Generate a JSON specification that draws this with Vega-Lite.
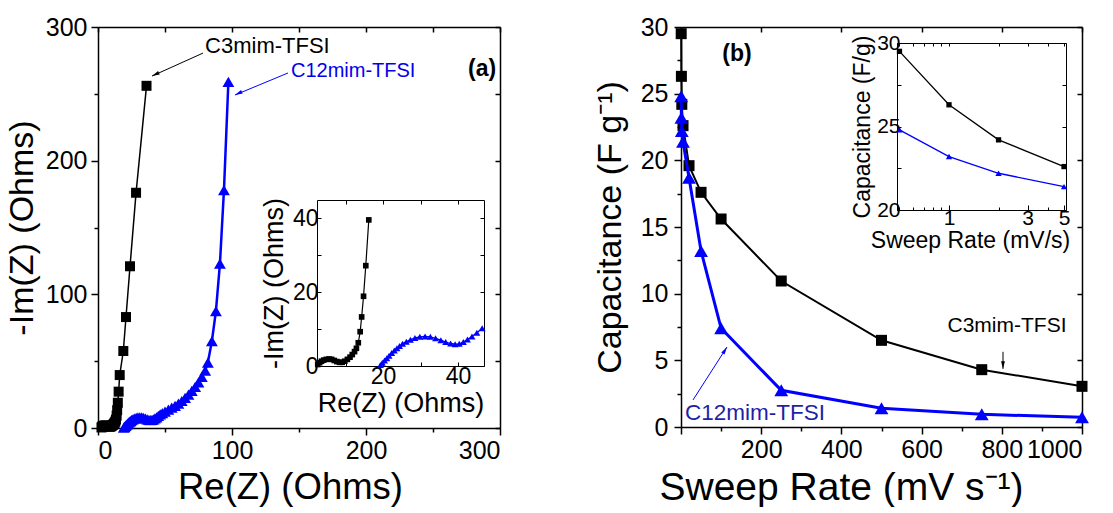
{
  "$schema": "https://vega.github.io/schema/vega-lite/v6.json",
  "background": "white",
  "autosize": {"type": "pad"},
  "padding": {"left": 5, "top": 15, "right": 0, "bottom": 0},
  "spacing": 92,
  "config": {
    "view": {"stroke": null},
    "axis": {
      "grid": false,
      "labelFont": "Liberation Sans",
      "titleFont": "Liberation Sans",
      "labelColor": "black",
      "titleColor": "black",
      "domainColor": "black",
      "tickColor": "black",
      "titleFontWeight": "normal",
      "domainWidth": 1.5,
      "tickWidth": 1.5,
      "labelFontSize": 25,
      "titleFontSize": 34,
      "labelOverlap": false
    },
    "text": {"font": "Liberation Sans"}
  },
  "datasets": {
    "eis": [
      {"s": "C3mim-TFSI", "re": 2.6, "im": 0.4},
      {"s": "C3mim-TFSI", "re": 3.1, "im": 0.9},
      {"s": "C3mim-TFSI", "re": 3.6, "im": 1.3},
      {"s": "C3mim-TFSI", "re": 4.2, "im": 1.6},
      {"s": "C3mim-TFSI", "re": 4.9, "im": 1.8},
      {"s": "C3mim-TFSI", "re": 5.6, "im": 1.9},
      {"s": "C3mim-TFSI", "re": 6.3, "im": 1.8},
      {"s": "C3mim-TFSI", "re": 7.0, "im": 1.5},
      {"s": "C3mim-TFSI", "re": 7.7, "im": 1.2},
      {"s": "C3mim-TFSI", "re": 8.4, "im": 1.0},
      {"s": "C3mim-TFSI", "re": 9.1, "im": 1.0},
      {"s": "C3mim-TFSI", "re": 9.8, "im": 1.3},
      {"s": "C3mim-TFSI", "re": 10.5, "im": 1.8},
      {"s": "C3mim-TFSI", "re": 11.2, "im": 2.4},
      {"s": "C3mim-TFSI", "re": 11.8, "im": 3.1},
      {"s": "C3mim-TFSI", "re": 12.4, "im": 3.9},
      {"s": "C3mim-TFSI", "re": 12.9, "im": 4.8},
      {"s": "C3mim-TFSI", "re": 13.4, "im": 6.3},
      {"s": "C3mim-TFSI", "re": 13.9, "im": 9.3},
      {"s": "C3mim-TFSI", "re": 14.3, "im": 13.3},
      {"s": "C3mim-TFSI", "re": 14.8, "im": 18.9},
      {"s": "C3mim-TFSI", "re": 15.4, "im": 27.2},
      {"s": "C3mim-TFSI", "re": 16.2, "im": 39.6},
      {"s": "C3mim-TFSI", "re": 18.9, "im": 57.6},
      {"s": "C3mim-TFSI", "re": 20.9, "im": 83},
      {"s": "C3mim-TFSI", "re": 23.9, "im": 121},
      {"s": "C3mim-TFSI", "re": 28.4, "im": 176},
      {"s": "C3mim-TFSI", "re": 36.2, "im": 256},
      {"s": "C12mim-TFSI", "re": 19.3, "im": 0.3},
      {"s": "C12mim-TFSI", "re": 19.8, "im": 0.9},
      {"s": "C12mim-TFSI", "re": 20.4, "im": 1.5},
      {"s": "C12mim-TFSI", "re": 21.0, "im": 2.1},
      {"s": "C12mim-TFSI", "re": 21.6, "im": 2.8},
      {"s": "C12mim-TFSI", "re": 22.3, "im": 3.5},
      {"s": "C12mim-TFSI", "re": 23.0, "im": 4.2},
      {"s": "C12mim-TFSI", "re": 23.7, "im": 4.8},
      {"s": "C12mim-TFSI", "re": 24.4, "im": 5.4},
      {"s": "C12mim-TFSI", "re": 25.2, "im": 6.0},
      {"s": "C12mim-TFSI", "re": 26.2, "im": 6.6},
      {"s": "C12mim-TFSI", "re": 27.3, "im": 7.1},
      {"s": "C12mim-TFSI", "re": 28.5, "im": 7.6},
      {"s": "C12mim-TFSI", "re": 29.8, "im": 7.9},
      {"s": "C12mim-TFSI", "re": 31.2, "im": 8.0},
      {"s": "C12mim-TFSI", "re": 32.6, "im": 7.9},
      {"s": "C12mim-TFSI", "re": 34.0, "im": 7.5},
      {"s": "C12mim-TFSI", "re": 35.4, "im": 7.0},
      {"s": "C12mim-TFSI", "re": 36.7, "im": 6.5},
      {"s": "C12mim-TFSI", "re": 38.0, "im": 6.1},
      {"s": "C12mim-TFSI", "re": 39.2, "im": 5.9},
      {"s": "C12mim-TFSI", "re": 40.3, "im": 6.0},
      {"s": "C12mim-TFSI", "re": 41.4, "im": 6.5},
      {"s": "C12mim-TFSI", "re": 42.5, "im": 7.2},
      {"s": "C12mim-TFSI", "re": 43.7, "im": 8.0},
      {"s": "C12mim-TFSI", "re": 45.0, "im": 9.0},
      {"s": "C12mim-TFSI", "re": 46.4, "im": 10.2},
      {"s": "C12mim-TFSI", "re": 48.0, "im": 11.2},
      {"s": "C12mim-TFSI", "re": 50.0, "im": 12.2},
      {"s": "C12mim-TFSI", "re": 52.5, "im": 13.8},
      {"s": "C12mim-TFSI", "re": 55.0, "im": 15.2},
      {"s": "C12mim-TFSI", "re": 57.5, "im": 16.6},
      {"s": "C12mim-TFSI", "re": 60.0, "im": 18.3},
      {"s": "C12mim-TFSI", "re": 62.5, "im": 20.2},
      {"s": "C12mim-TFSI", "re": 65.0, "im": 22.5},
      {"s": "C12mim-TFSI", "re": 67.5, "im": 25.0},
      {"s": "C12mim-TFSI", "re": 70.0, "im": 27.7},
      {"s": "C12mim-TFSI", "re": 72.5, "im": 30.7},
      {"s": "C12mim-TFSI", "re": 75.0, "im": 34.2},
      {"s": "C12mim-TFSI", "re": 77.5, "im": 38.2},
      {"s": "C12mim-TFSI", "re": 80.0, "im": 43.0},
      {"s": "C12mim-TFSI", "re": 82.0, "im": 49.0},
      {"s": "C12mim-TFSI", "re": 85.0, "im": 65.0},
      {"s": "C12mim-TFSI", "re": 88.0, "im": 87.5},
      {"s": "C12mim-TFSI", "re": 91.0, "im": 123},
      {"s": "C12mim-TFSI", "re": 94.0, "im": 178},
      {"s": "C12mim-TFSI", "re": 97.3, "im": 259}
    ],
    "cap": [
      {"s": "C3mim-TFSI", "rate": 0.5, "c": 29.5},
      {"s": "C3mim-TFSI", "rate": 1, "c": 26.3},
      {"s": "C3mim-TFSI", "rate": 2, "c": 24.2},
      {"s": "C3mim-TFSI", "rate": 5, "c": 22.6},
      {"s": "C3mim-TFSI", "rate": 20, "c": 19.6},
      {"s": "C3mim-TFSI", "rate": 50, "c": 17.6},
      {"s": "C3mim-TFSI", "rate": 100, "c": 15.6},
      {"s": "C3mim-TFSI", "rate": 250, "c": 10.95},
      {"s": "C3mim-TFSI", "rate": 500, "c": 6.5},
      {"s": "C3mim-TFSI", "rate": 750, "c": 4.3},
      {"s": "C3mim-TFSI", "rate": 1000, "c": 3.05},
      {"s": "C12mim-TFSI", "rate": 0.5, "c": 24.8},
      {"s": "C12mim-TFSI", "rate": 1, "c": 23.2},
      {"s": "C12mim-TFSI", "rate": 2, "c": 22.2},
      {"s": "C12mim-TFSI", "rate": 5, "c": 21.4},
      {"s": "C12mim-TFSI", "rate": 20, "c": 18.7},
      {"s": "C12mim-TFSI", "rate": 50, "c": 13.2},
      {"s": "C12mim-TFSI", "rate": 100, "c": 7.4},
      {"s": "C12mim-TFSI", "rate": 250, "c": 2.75},
      {"s": "C12mim-TFSI", "rate": 500, "c": 1.4},
      {"s": "C12mim-TFSI", "rate": 750, "c": 0.95},
      {"s": "C12mim-TFSI", "rate": 1000, "c": 0.73}
    ]
  },
  "hconcat": [
    {
      "width": 402,
      "height": 401,
      "resolve": {"scale": {"x": "independent", "y": "independent"}},
      "layer": [
        {
          "data": {"name": "eis"},
          "mark": {"type": "point", "opacity": 0},
          "encoding": {
            "x": {"field": "re", "type": "quantitative", "scale": {"domain": [0, 300], "nice": false, "zero": false},
                  "axis": {"orient": "top", "title": null, "labels": false, "values": [0, 50, 100, 150, 200, 250, 300], "tickSize": -5}},
            "y": {"field": "im", "type": "quantitative", "scale": {"domain": [0, 300], "nice": false, "zero": false},
                  "axis": {"orient": "right", "title": null, "labels": false, "values": [0, 50, 100, 150, 200, 250, 300], "tickSize": -5}}
          }
        },
        {
          "data": {"name": "eis"},
          "mark": {"type": "point", "opacity": 0},
          "encoding": {
            "x": {"field": "re", "type": "quantitative", "scale": {"domain": [0, 300], "nice": false, "zero": false},
                  "axis": {"orient": "bottom", "title": null, "labels": false, "domain": false, "values": [50, 150, 250], "tickSize": 4}},
            "y": {"field": "im", "type": "quantitative", "scale": {"domain": [0, 300], "nice": false, "zero": false},
                  "axis": {"orient": "left", "title": null, "labels": false, "domain": false, "values": [50, 150, 250], "tickSize": 4}}
          }
        },
        {
          "layer": [
            {
              "data": {"name": "eis"},
              "transform": [{"filter": "datum.s === 'C3mim-TFSI'"}],
              "mark": {"type": "line", "color": "black", "strokeWidth": 1.5},
              "encoding": {
                "x": {"field": "re", "type": "quantitative", "scale": {"domain": [0, 300], "nice": false, "zero": false},
                      "axis": {"orient": "bottom", "title": "Re(Z) (Ohms)", "values": [0, 100, 200, 300],
                               "tickSize": 7, "labelPadding": 3, "titlePadding": 6, "titleFontSize": 36.5, "titleX": 192}},
                "y": {"field": "im", "type": "quantitative", "scale": {"domain": [0, 300], "nice": false, "zero": false},
                      "axis": {"orient": "left", "title": "-Im(Z) (Ohms)", "values": [0, 100, 200, 300],
                               "tickSize": 7, "labelPadding": 4, "titlePadding": 6}}
              }
            },
            {
              "data": {"name": "eis"},
              "transform": [{"filter": "datum.s === 'C3mim-TFSI'"}],
              "mark": {"type": "point", "shape": "square", "filled": true, "color": "black", "size": 100, "opacity": 1},
              "encoding": {
                "x": {"field": "re", "type": "quantitative"},
                "y": {"field": "im", "type": "quantitative"}
              }
            },
            {
              "data": {"name": "eis"},
              "transform": [{"filter": "datum.s === 'C12mim-TFSI'"}],
              "mark": {"type": "line", "color": "#0000ff", "strokeWidth": 2.5},
              "encoding": {
                "x": {"field": "re", "type": "quantitative"},
                "y": {"field": "im", "type": "quantitative"}
              }
            },
            {
              "data": {"name": "eis"},
              "transform": [{"filter": "datum.s === 'C12mim-TFSI'"}],
              "mark": {"type": "point", "shape": "triangle-up", "filled": true, "color": "#0000ff", "size": 140, "opacity": 1},
              "encoding": {
                "x": {"field": "re", "type": "quantitative"},
                "y": {"field": "im", "type": "quantitative"}
              }
            },
            {
              "data": {"values": [
                {"x": 78.4, "y": 280.5, "x2": 40.3, "y2": 263.3, "s": "C3mim-TFSI"}
              ]},
              "mark": {"type": "rule", "color": "black", "strokeWidth": 1},
              "encoding": {
                "x": {"field": "x", "type": "quantitative"},
                "y": {"field": "y", "type": "quantitative"},
                "x2": {"field": "x2"},
                "y2": {"field": "y2"}
              }
            },
            {
              "data": {"values": [
                {"x": 141.8, "y": 265.6, "x2": 102.2, "y2": 249.1, "s": "C12mim-TFSI"}
              ]},
              "mark": {"type": "rule", "color": "#0000ff", "strokeWidth": 1},
              "encoding": {
                "x": {"field": "x", "type": "quantitative"},
                "y": {"field": "y", "type": "quantitative"},
                "x2": {"field": "x2"},
                "y2": {"field": "y2"}
              }
            },
            {
              "data": {"values": [
                {"x": 40.3, "y": 263.3, "s": "C3mim-TFSI"}
              ]},
              "mark": {"type": "point", "shape": "M0,0L0.55,2.2L-0.55,2.2Z", "filled": true, "color": "black", "size": 49, "opacity": 1, "angle": 244},
              "encoding": {
                "x": {"field": "x", "type": "quantitative"},
                "y": {"field": "y", "type": "quantitative"}
              }
            },
            {
              "data": {"values": [
                {"x": 102.2, "y": 249.1, "s": "C12mim-TFSI"}
              ]},
              "mark": {"type": "point", "shape": "M0,0L0.55,2.2L-0.55,2.2Z", "filled": true, "color": "#0000ff", "size": 49, "opacity": 1, "angle": 244},
              "encoding": {
                "x": {"field": "x", "type": "quantitative"},
                "y": {"field": "y", "type": "quantitative"}
              }
            },
            {
              "data": {"values": [
                {"x": 79.9, "y": 285.8, "t": "C3mim-TFSI"}
              ]},
              "mark": {"type": "text", "align": "left", "baseline": "middle", "fontSize": 22, "color": "black"},
              "encoding": {
                "x": {"field": "x", "type": "quantitative"},
                "y": {"field": "y", "type": "quantitative"},
                "text": {"field": "t"}
              }
            },
            {
              "data": {"values": [
                {"x": 144.0, "y": 267.1, "t": "C12mim-TFSI"}
              ]},
              "mark": {"type": "text", "align": "left", "baseline": "middle", "fontSize": 20, "color": "#0000ee"},
              "encoding": {
                "x": {"field": "x", "type": "quantitative"},
                "y": {"field": "y", "type": "quantitative"},
                "text": {"field": "t"}
              }
            },
            {
              "data": {"values": [
                {"x": 286.6, "y": 268.6, "t": "(a)"}
              ]},
              "mark": {"type": "text", "align": "center", "baseline": "middle", "fontSize": 23, "fontWeight": "bold", "color": "black"},
              "encoding": {
                "x": {"field": "x", "type": "quantitative"},
                "y": {"field": "y", "type": "quantitative"},
                "text": {"field": "t"}
              }
            }
          ]
        },
        {
          "data": {"name": "eis"},
          "transform": [{"filter": "datum.re <= 46 && datum.im <= 45"}],
          "mark": {"type": "point", "opacity": 0},
          "encoding": {
            "x": {"field": "re", "type": "quantitative", "scale": {"domain": [2.4, 46.9], "range": [219, 386], "nice": false, "zero": false},
                  "axis": {"orient": "top", "offset": -173, "title": null, "labels": false, "values": [10, 20, 30, 40], "tickSize": -4, "domainWidth": 1, "tickWidth": 1}},
            "y": {"field": "im", "type": "quantitative", "scale": {"domain": [0, 45], "range": [339, 173], "nice": false, "zero": false},
                  "axis": {"orient": "right", "offset": -16, "title": null, "labels": false, "values": [0, 10, 20, 30, 40], "tickSize": -4, "domainWidth": 1, "tickWidth": 1}}
          }
        },
        {
          "data": {"name": "eis"},
          "transform": [{"filter": "datum.re <= 47.1 && datum.im <= 45"}],
          "layer": [
            {
              "transform": [{"filter": "datum.s === 'C3mim-TFSI'"}],
              "mark": {"type": "line", "color": "black", "strokeWidth": 1.2},
              "encoding": {
                "x": {"field": "re", "type": "quantitative", "scale": {"domain": [2.4, 46.9], "range": [219, 386], "nice": false, "zero": false},
                      "axis": {"orient": "bottom", "offset": -62, "title": "Re(Z) (Ohms)", "values": [10, 20, 30, 40],
                               "labelExpr": "datum.value % 20 === 0 ? datum.label : ''", "tickSize": -4,
                               "labelFontSize": 23, "titleFontSize": 27, "labelPadding": 3, "titlePadding": 2, "domainWidth": 1, "tickWidth": 1}},
                "y": {"field": "im", "type": "quantitative", "scale": {"domain": [0, 45], "range": [339, 173], "nice": false, "zero": false},
                      "axis": {"orient": "left", "offset": -219, "title": "-Im(Z) (Ohms)", "values": [0, 10, 20, 30, 40],
                               "labelExpr": "datum.value % 20 === 0 ? datum.label : ''", "tickSize": -4,
                               "labelFontSize": 23, "titleFontSize": 27, "labelPadding": 3, "titlePadding": 4, "domainWidth": 1, "tickWidth": 1}}
              }
            },
            {
              "transform": [{"filter": "datum.s === 'C3mim-TFSI'"}],
              "mark": {"type": "point", "shape": "square", "filled": true, "color": "black", "size": 32, "opacity": 1},
              "encoding": {
                "x": {"field": "re", "type": "quantitative"},
                "y": {"field": "im", "type": "quantitative"}
              }
            },
            {
              "transform": [{"filter": "datum.s === 'C12mim-TFSI'"}],
              "mark": {"type": "line", "color": "#0000ff", "strokeWidth": 1.3},
              "encoding": {
                "x": {"field": "re", "type": "quantitative"},
                "y": {"field": "im", "type": "quantitative"}
              }
            },
            {
              "transform": [{"filter": "datum.s === 'C12mim-TFSI'"}],
              "mark": {"type": "point", "shape": "triangle-up", "filled": true, "color": "#0000ff", "size": 48, "opacity": 1},
              "encoding": {
                "x": {"field": "re", "type": "quantitative"},
                "y": {"field": "im", "type": "quantitative"}
              }
            }
          ]
        }
      ]
    },
    {
      "width": 401,
      "height": 400,
      "resolve": {"scale": {"x": "independent", "y": "independent"}},
      "layer": [
        {
          "data": {"name": "cap"},
          "mark": {"type": "point", "opacity": 0},
          "encoding": {
            "x": {"field": "rate", "type": "quantitative", "scale": {"domain": [0, 1000], "nice": false, "zero": false},
                  "axis": {"orient": "top", "title": null, "labels": false, "values": [0, 200, 400, 600, 800, 1000], "tickSize": -5}},
            "y": {"field": "c", "type": "quantitative", "scale": {"domain": [0, 30], "nice": false, "zero": false},
                  "axis": {"orient": "right", "title": null, "labels": false, "values": [0, 5, 10, 15, 20, 25, 30], "tickSize": -5}}
          }
        },
        {
          "data": {"name": "cap"},
          "mark": {"type": "point", "opacity": 0},
          "encoding": {
            "x": {"field": "rate", "type": "quantitative", "scale": {"domain": [0, 1000], "nice": false, "zero": false},
                  "axis": {"orient": "bottom", "title": null, "labels": false, "domain": false, "values": [100, 300, 500, 700, 900], "tickSize": 4}},
            "y": {"field": "c", "type": "quantitative", "scale": {"domain": [0, 30], "nice": false, "zero": false},
                  "axis": {"orient": "left", "title": null, "labels": false, "domain": false, "values": [2.5, 7.5, 12.5, 17.5, 22.5, 27.5], "tickSize": 4}}
          }
        },
        {
          "layer": [
            {
              "data": {"name": "cap"},
              "transform": [{"filter": "datum.s === 'C3mim-TFSI'"}],
              "mark": {"type": "line", "color": "black", "strokeWidth": 2},
              "encoding": {
                "x": {"field": "rate", "type": "quantitative", "scale": {"domain": [0, 1000], "nice": false, "zero": false},
                      "axis": {"orient": "bottom", "title": "Sweep Rate (mV s⁻¹)", "values": [0, 200, 400, 600, 800, 1000], "format": "d",
                               "labelExpr": "datum.value > 0 ? datum.label : ''",
                               "tickSize": 7, "labelPadding": 3, "titlePadding": 6, "titleFontSize": 39, "titleX": 160}},
                "y": {"field": "c", "type": "quantitative", "scale": {"domain": [0, 30], "nice": false, "zero": false},
                      "axis": {"orient": "left", "title": "Capacitance (F g⁻¹)", "values": [0, 5, 10, 15, 20, 25, 30],
                               "tickSize": 7, "labelPadding": 6, "titlePadding": 13}}
              }
            },
            {
              "data": {"name": "cap"},
              "transform": [{"filter": "datum.s === 'C3mim-TFSI'"}],
              "mark": {"type": "point", "shape": "square", "filled": true, "color": "black", "size": 121, "opacity": 1},
              "encoding": {
                "x": {"field": "rate", "type": "quantitative"},
                "y": {"field": "c", "type": "quantitative"}
              }
            },
            {
              "data": {"name": "cap"},
              "transform": [{"filter": "datum.s === 'C12mim-TFSI'"}],
              "mark": {"type": "line", "color": "#0000ff", "strokeWidth": 3},
              "encoding": {
                "x": {"field": "rate", "type": "quantitative"},
                "y": {"field": "c", "type": "quantitative"}
              }
            },
            {
              "data": {"name": "cap"},
              "transform": [{"filter": "datum.s === 'C12mim-TFSI'"}],
              "mark": {"type": "point", "shape": "triangle-up", "filled": true, "color": "#0000ff", "size": 190, "opacity": 1},
              "encoding": {
                "x": {"field": "rate", "type": "quantitative"},
                "y": {"field": "c", "type": "quantitative"}
              }
            },
            {
              "data": {"values": [
                {"x": 803, "y": 5.64, "x2": 803, "y2": 4.36, "s": "C3mim-TFSI"}
              ]},
              "mark": {"type": "rule", "color": "black", "strokeWidth": 1},
              "encoding": {
                "x": {"field": "x", "type": "quantitative"},
                "y": {"field": "y", "type": "quantitative"},
                "x2": {"field": "x2"},
                "y2": {"field": "y2"}
              }
            },
            {
              "data": {"values": [
                {"x": 30, "y": 2.03, "x2": 114.7, "y2": 6.0, "s": "C12mim-TFSI"}
              ]},
              "mark": {"type": "rule", "color": "#0000ff", "strokeWidth": 1},
              "encoding": {
                "x": {"field": "x", "type": "quantitative"},
                "y": {"field": "y", "type": "quantitative"},
                "x2": {"field": "x2"},
                "y2": {"field": "y2"}
              }
            },
            {
              "data": {"values": [
                {"x": 803, "y": 4.36, "s": "C3mim-TFSI"}
              ]},
              "mark": {"type": "point", "shape": "M0,0L0.55,2.2L-0.55,2.2Z", "filled": true, "color": "black", "size": 49, "opacity": 1, "angle": 180},
              "encoding": {
                "x": {"field": "x", "type": "quantitative"},
                "y": {"field": "y", "type": "quantitative"}
              }
            },
            {
              "data": {"values": [
                {"x": 114.7, "y": 6.0, "s": "C12mim-TFSI"}
              ]},
              "mark": {"type": "point", "shape": "M0,0L0.55,2.2L-0.55,2.2Z", "filled": true, "color": "#0000ff", "size": 49, "opacity": 1, "angle": 32},
              "encoding": {
                "x": {"field": "x", "type": "quantitative"},
                "y": {"field": "y", "type": "quantitative"}
              }
            },
            {
              "data": {"values": [
                {"x": 813, "y": 7.6, "t": "C3mim-TFSI"}
              ]},
              "mark": {"type": "text", "align": "center", "baseline": "middle", "fontSize": 21, "color": "black"},
              "encoding": {
                "x": {"field": "x", "type": "quantitative"},
                "y": {"field": "y", "type": "quantitative"},
                "text": {"field": "t"}
              }
            },
            {
              "data": {"values": [
                {"x": 10, "y": 1.05, "t": "C12mim-TFSI"}
              ]},
              "mark": {"type": "text", "align": "left", "baseline": "middle", "fontSize": 22.5, "color": "#1f1fa8"},
              "encoding": {
                "x": {"field": "x", "type": "quantitative"},
                "y": {"field": "y", "type": "quantitative"},
                "text": {"field": "t"}
              }
            },
            {
              "data": {"values": [
                {"x": 139.7, "y": 28.0, "t": "(b)"}
              ]},
              "mark": {"type": "text", "align": "center", "baseline": "middle", "fontSize": 23, "fontWeight": "bold", "color": "black"},
              "encoding": {
                "x": {"field": "x", "type": "quantitative"},
                "y": {"field": "y", "type": "quantitative"},
                "text": {"field": "t"}
              }
            }
          ]
        },
        {
          "data": {"name": "cap"},
          "transform": [{"filter": "datum.rate <= 5"}],
          "mark": {"type": "point", "opacity": 0},
          "encoding": {
            "x": {"field": "rate", "type": "quantitative", "scale": {"type": "log", "domain": [0.483, 5.14], "range": [216, 385], "nice": false},
                  "axis": {"orient": "top", "offset": -16, "title": null, "labels": false, "values": [0.5, 0.6, 0.7, 0.8, 0.9, 1, 2, 3, 4, 5], "tickSize": -3, "domainWidth": 1, "tickWidth": 1}},
            "y": {"field": "c", "type": "quantitative", "scale": {"domain": [20, 30], "range": [183, 16], "nice": false, "zero": false},
                  "axis": {"orient": "right", "offset": -16, "title": null, "labels": false, "values": [20, 22.5, 25, 27.5, 30], "tickSize": -4, "domainWidth": 1, "tickWidth": 1}}
          }
        },
        {
          "data": {"name": "cap"},
          "transform": [{"filter": "datum.rate <= 5"}],
          "mark": {"type": "point", "opacity": 0},
          "encoding": {
            "x": {"field": "rate", "type": "quantitative", "scale": {"type": "log", "domain": [0.483, 5.14], "range": [216, 385], "nice": false},
                  "axis": {"orient": "bottom", "offset": -217, "title": null, "labels": false, "domain": false, "values": [0.5, 0.6, 0.7, 0.8, 0.9, 2, 4], "tickSize": -3, "tickWidth": 1}},
            "y": {"field": "c", "type": "quantitative", "scale": {"domain": [20, 30], "range": [183, 16], "nice": false, "zero": false},
                  "axis": null}
          }
        },
        {
          "data": {"name": "cap"},
          "transform": [{"filter": "datum.rate <= 5"}],
          "layer": [
            {
              "transform": [{"filter": "datum.s === 'C3mim-TFSI'"}],
              "mark": {"type": "line", "color": "black", "strokeWidth": 1.3},
              "encoding": {
                "x": {"field": "rate", "type": "quantitative", "scale": {"type": "log", "domain": [0.483, 5.14], "range": [216, 385], "nice": false},
                      "axis": {"orient": "bottom", "offset": -217, "title": "Sweep Rate (mV/s)", "values": [1, 3, 5], "format": "d",
                               "tickSize": -5, "labelFontSize": 21, "titleFontSize": 23, "labelPadding": 2, "titlePadding": 1, "titleX": 289, "domainWidth": 1, "tickWidth": 1}},
                "y": {"field": "c", "type": "quantitative", "scale": {"domain": [20, 30], "range": [183, 16], "nice": false, "zero": false},
                      "axis": {"orient": "left", "offset": -216, "title": "Capacitance (F/g)", "values": [20, 22.5, 25, 27.5, 30],
                               "labelExpr": "datum.value % 5 === 0 ? datum.label : ''", "tickSize": -4,
                               "labelFontSize": 21, "titleFontSize": 23, "labelPadding": 1, "titlePadding": 2, "domainWidth": 1, "tickWidth": 1}}
              }
            },
            {
              "transform": [{"filter": "datum.s === 'C3mim-TFSI'"}],
              "mark": {"type": "point", "shape": "square", "filled": true, "color": "black", "size": 28, "opacity": 1},
              "encoding": {
                "x": {"field": "rate", "type": "quantitative"},
                "y": {"field": "c", "type": "quantitative"}
              }
            },
            {
              "transform": [{"filter": "datum.s === 'C12mim-TFSI'"}],
              "mark": {"type": "line", "color": "#0000ff", "strokeWidth": 1.3},
              "encoding": {
                "x": {"field": "rate", "type": "quantitative"},
                "y": {"field": "c", "type": "quantitative"}
              }
            },
            {
              "transform": [{"filter": "datum.s === 'C12mim-TFSI'"}],
              "mark": {"type": "point", "shape": "triangle-up", "filled": true, "color": "#0000ff", "size": 40, "opacity": 1},
              "encoding": {
                "x": {"field": "rate", "type": "quantitative"},
                "y": {"field": "c", "type": "quantitative"}
              }
            }
          ]
        }
      ]
    }
  ]
}
